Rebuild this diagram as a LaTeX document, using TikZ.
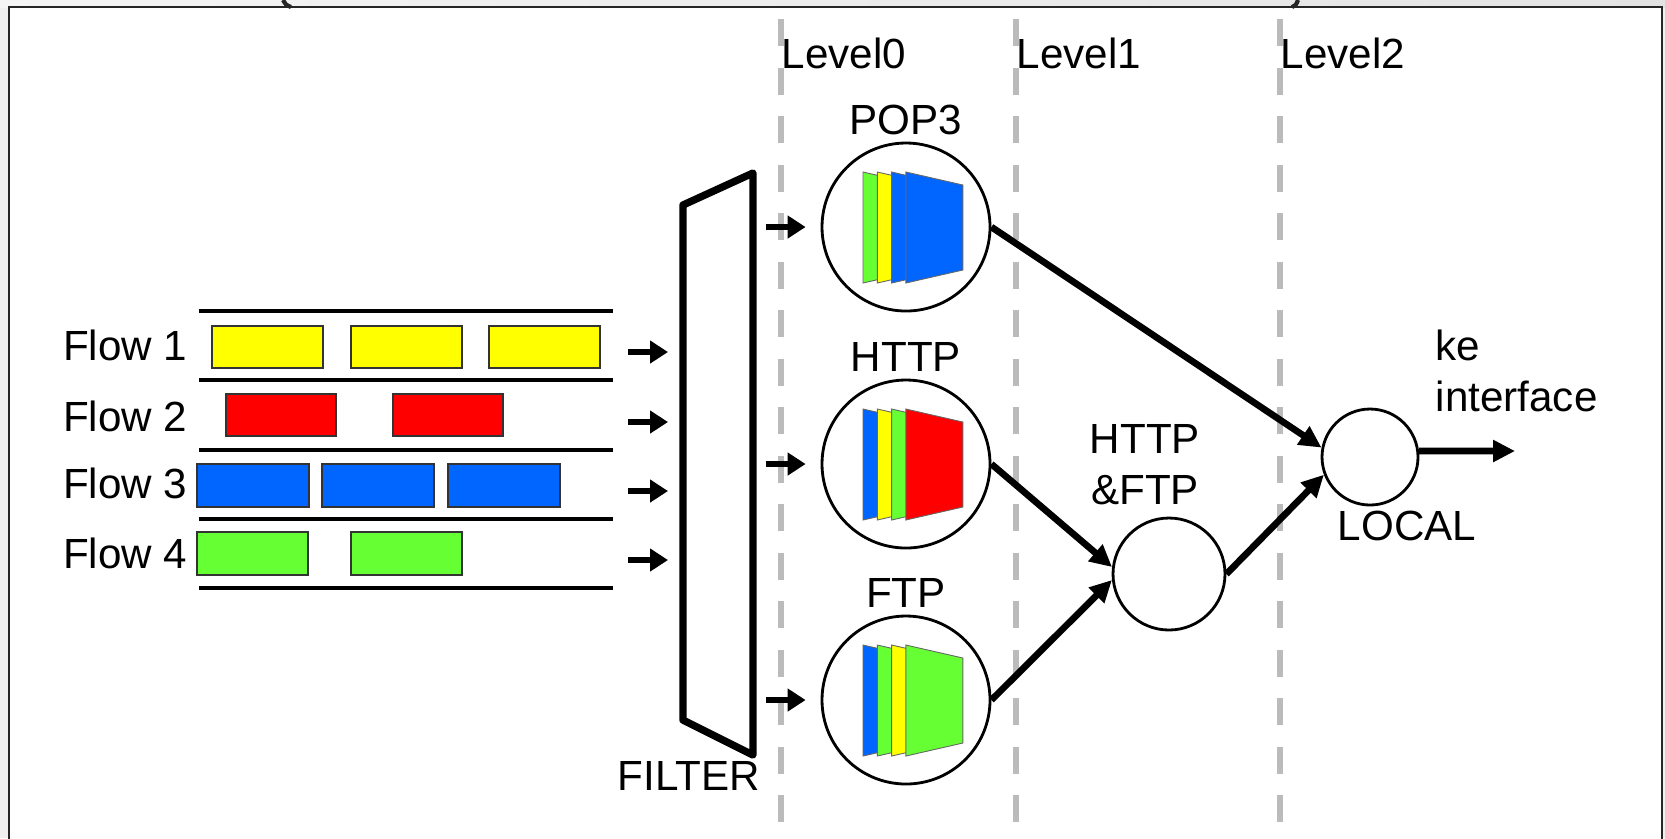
\documentclass[tikz,border=0pt]{standalone}
\usepackage{fontspec}
\setmainfont{Liberation Sans}
\usetikzlibrary{positioning, arrows.meta}

\definecolor{flowyellow}{HTML}{FFFF00}
\definecolor{flowred}{HTML}{FF0000}
\definecolor{flowblue}{HTML}{0066FF}
\definecolor{flowgreen}{HTML}{66FF33}
\definecolor{levelgray}{HTML}{BBBBBB}

%% stack of four slabs inside a protocol circle, colours left to right
\newcommand{\slabstack}[5]{%
  \begin{scope}[shift={(#1)}]
    \foreach \c [count=\i from 0] in {#2,#3,#4,#5}
      \filldraw[slab, fill=\c] ({-43+14.3*\i},-55) -- ({14+14.3*\i},-42)
        -- ({14+14.3*\i},43) -- ({-43+14.3*\i},56) -- cycle;
  \end{scope}}

\begin{document}
\begin{tikzpicture}[
    x=0.1mm, y=-0.1mm,
    txt/.style      = {inner sep=0pt, font=\fontsize{12}{14.5}\selectfont},
    frameline/.style= {line width=0.7pt, draw=black!85},
    lane/.style     = {line width=1.4pt, draw=black},
    flowbox/.style  = {draw=black!80, line width=0.7pt},
    slab/.style     = {draw=black!60, line width=0.25pt},
    proto/.style    = {circle, draw=black, line width=0.8pt, fill=white,
                       minimum size=16.8mm, inner sep=0pt},
    merge/.style    = {circle, draw=black, line width=0.8pt, fill=white,
                       inner sep=0pt},
    levelline/.style= {line width=1.9pt, draw=levelgray,
                       dash pattern=on 2.7mm off 2.15mm},
    filterline/.style = {line width=2.1pt, draw=black, line join=round},
    arr/.style      = {line width=1.9pt, draw=black,
                       -{Triangle[length=2.2mm, width=2.1mm]}},
    smallarr/.style = {line width=1.8pt, draw=black,
                       -{Triangle[length=1.8mm, width=2.2mm]}},
]
\useasboundingbox (0,0) rectangle (1665,838);

%% ---- window frame ----
\fill[gray!12] (0,0) rectangle (1665,838);
\shade[left color=gray!8, right color=gray!22] (0,0) rectangle (1665,7);
\fill[white] (9,7) rectangle (1662,845);
\draw[frameline] (9,845) -- (9,7) -- (1662,7) -- (1662,845);
\draw[frameline, line width=1.2pt] (283,0) .. controls (286,5) .. (291,7);
\draw[frameline, line width=1.2pt] (1298,0) .. controls (1296,5) .. (1292,7);

%% ---- levels ----
\foreach \x [count=\i from 0] in {781,1016,1280} {
  \draw[levelline] (\x,19) -- (\x,838);
  \node[txt, anchor=west] (level\i) at (\x,53) {Level\i};
}

%% ---- flows ----
\foreach \y in {311,380,450,519,588}
  \draw[lane] (199,\y) -- (613,\y);
\foreach \y [count=\i] in {345,416,483,553}
  \node[txt, anchor=east] (flow\i) at (188,\y) {Flow \i};

\foreach \x in {212,351,489}
  \filldraw[flowbox, fill=flowyellow] (\x,326) rectangle ++(111,42);
\foreach \x in {226,393}
  \filldraw[flowbox, fill=flowred] (\x,394) rectangle ++(110,42);
\foreach \x in {197,322,448}
  \filldraw[flowbox, fill=flowblue] (\x,464) rectangle ++(112,43);
\foreach \x in {197,351}
  \filldraw[flowbox, fill=flowgreen] (\x,532) rectangle ++(111,43);

%% ---- filter ----
\coordinate (ftl) at (683,205);
\coordinate (ftr) at (753,173);
\coordinate (fbr) at (753,755);
\coordinate (fbl) at (683,720);
\draw[filterline] (ftl) -- (ftr) -- (fbr) -- (fbl) -- cycle;
\node[txt] (filterlbl) at (689,776) {FILTER};

\foreach \y [count=\i] in {352,422,491,560} {
  \coordinate (fin\i) at (683,\y);
  \draw[smallarr] ([xshift=-5.5mm]fin\i) -- ([xshift=-1.5mm]fin\i);
}

%% ---- protocol circles ----
\node[proto] (pop3) at (906,227) {};
\node[proto] (http) at (906,464) {};
\node[proto] (ftp)  at (906,700) {};
\node[txt, above=0.6mm of pop3] (pop3lbl) {POP3};
\node[txt, above=0.6mm of http] (httplbl) {HTTP};
\node[txt, above=0.6mm of ftp]  (ftplbl)  {FTP};

\slabstack{pop3.center}{flowgreen}{flowyellow}{flowblue}{flowblue}
\slabstack{http.center}{flowblue}{flowyellow}{flowgreen}{flowred}
\slabstack{ftp.center}{flowblue}{flowgreen}{flowyellow}{flowgreen}

\foreach \p in {pop3,http,ftp}
  \draw[smallarr] ([xshift=-5.5mm]\p.west) -- ([xshift=-1.5mm]\p.west);

%% ---- merge circles ----
\node[merge, minimum size=11.2mm] (hf) at (1169,574) {};
\node[merge, minimum size=9.6mm] (local) at (1370,457) {};
\node[txt, align=center] (hflbl) at (1145,465) {HTTP\\\&FTP};
\node[txt] (locallbl) at (1407,526) {LOCAL};
\node[txt, align=left, anchor=west] (kelbl) at (1435,371) {ke\\interface};
\coordinate (kout) at (1515,451);

%% ---- connections ----
\draw[arr] (pop3.east) -- (local.169);
\draw[arr] (http.east) -- (hf.173);
\draw[arr] (ftp.east)  -- (hf.186);
\draw[arr] (hf.east)   -- (local.201);
\draw[arr] (local.7)   -- (kout);

\end{tikzpicture}
\end{document}
